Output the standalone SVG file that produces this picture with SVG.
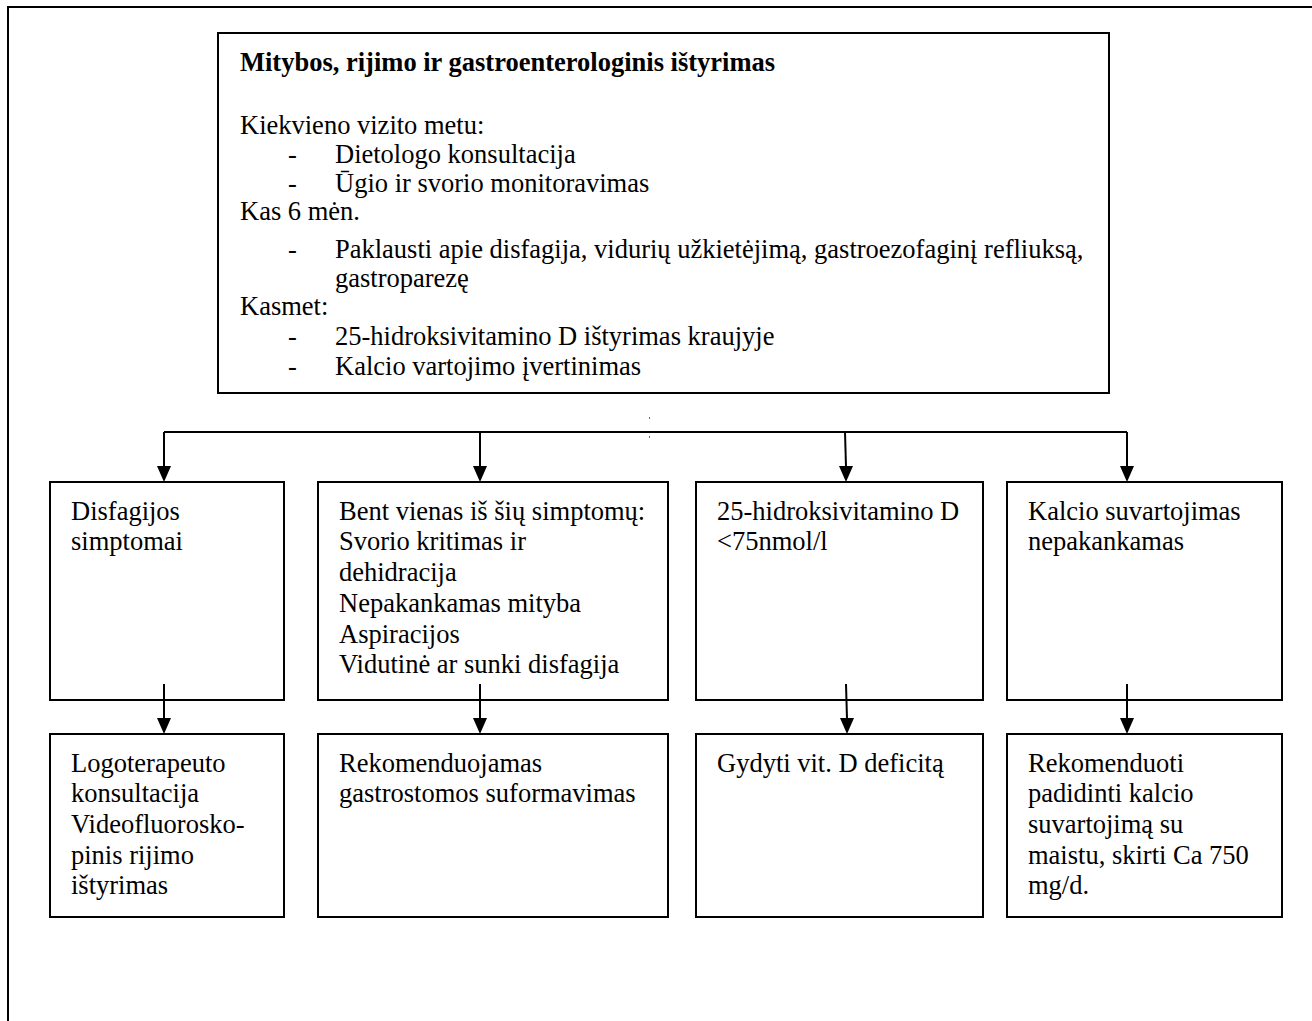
<svg xmlns="http://www.w3.org/2000/svg" width="1312" height="1021" viewBox="0 0 1312 1021">
<style>
.box{fill:#fff;stroke:#000;stroke-width:2}
.t{font-family:"Liberation Serif","Times New Roman",serif;font-size:26.5px;fill:#000}
.b{font-weight:bold}
.c{stroke:#000;stroke-width:2;fill:none}
</style>
<rect x="0" y="0" width="1312" height="1021" fill="#fff"/>
<rect x="8" y="7" width="1330" height="1040" fill="none" stroke="#000" stroke-width="2"/>
<g id="top">
<rect class="box" x="218" y="33" width="891" height="360"/>
<text class="t b" x="240" y="71">Mitybos, rijimo ir gastroenterologinis ištyrimas</text>
<text class="t" x="240" y="134">Kiekvieno vizito metu:</text>
<text class="t" x="288" y="163">-</text><text class="t" x="335" y="163">Dietologo konsultacija</text>
<text class="t" x="288" y="192">-</text><text class="t" x="335" y="192">Ūgio ir svorio monitoravimas</text>
<text class="t" x="240" y="220">Kas 6 mėn.</text>
<text class="t" x="288" y="258">-</text><text class="t" x="335" y="258">Paklausti apie disfagija, vidurių užkietėjimą, gastroezofaginį refliuksą,</text>
<text class="t" x="335" y="287">gastroparezę</text>
<text class="t" x="240" y="315">Kasmet:</text>
<text class="t" x="288" y="345">-</text><text class="t" x="335" y="345">25-hidroksivitamino D ištyrimas kraujyje</text>
<text class="t" x="288" y="375">-</text><text class="t" x="335" y="375">Kalcio vartojimo įvertinimas</text>
</g>
<g id="n1">
<rect class="box" x="50" y="482" width="234" height="218"/>
<text class="t" x="71" y="520">Disfagijos</text>
<text class="t" x="71" y="550">simptomai</text>
</g>
<g id="n2">
<rect class="box" x="318" y="482" width="350" height="218"/>
<text class="t" x="339" y="520">Bent vienas iš šių simptomų:</text>
<text class="t" x="339" y="550">Svorio kritimas ir</text>
<text class="t" x="339" y="581">dehidracija</text>
<text class="t" x="339" y="612">Nepakankamas mityba</text>
<text class="t" x="339" y="643">Aspiracijos</text>
<text class="t" x="339" y="673">Vidutinė ar sunki disfagija</text>
</g>
<g id="n3">
<rect class="box" x="696" y="482" width="287" height="218"/>
<text class="t" x="717" y="520">25-hidroksivitamino D</text>
<text class="t" x="717" y="550">&lt;75nmol/l</text>
</g>
<g id="n4">
<rect class="box" x="1007" y="482" width="275" height="218"/>
<text class="t" x="1028" y="520">Kalcio suvartojimas</text>
<text class="t" x="1028" y="550">nepakankamas</text>
</g>
<g id="m1">
<rect class="box" x="50" y="734" width="234" height="183"/>
<text class="t" x="71" y="772">Logoterapeuto</text>
<text class="t" x="71" y="802">konsultacija</text>
<text class="t" x="71" y="833">Videofluorosko-</text>
<text class="t" x="71" y="864">pinis rijimo</text>
<text class="t" x="71" y="894">ištyrimas</text>
</g>
<g id="m2">
<rect class="box" x="318" y="734" width="350" height="183"/>
<text class="t" x="339" y="772">Rekomenduojamas</text>
<text class="t" x="339" y="802">gastrostomos suformavimas</text>
</g>
<g id="m3">
<rect class="box" x="696" y="734" width="287" height="183"/>
<text class="t" x="717" y="772">Gydyti vit. D deficitą</text>
</g>
<g id="m4">
<rect class="box" x="1007" y="734" width="275" height="183"/>
<text class="t" x="1028" y="772">Rekomenduoti</text>
<text class="t" x="1028" y="802">padidinti kalcio</text>
<text class="t" x="1028" y="833">suvartojimą su</text>
<text class="t" x="1028" y="864">maistu, skirti Ca 750</text>
<text class="t" x="1028" y="894">mg/d.</text>
</g>
<g id="connectors">
<path class="c" d="M164,432 H1127"/>
<path class="c" d="M164,432 V467"/><path d="M157,466 h14 l-7,16 z"/>
<path class="c" d="M480,432 V467"/><path d="M473,466 h14 l-7,16 z"/>
<path class="c" d="M845,432 L846,467"/><path d="M839,466 h14 l-7,16 z"/>
<path class="c" d="M1127,432 V467"/><path d="M1120,466 h14 l-7,16 z"/>
<path class="c" d="M164,684 V719"/><path d="M157,718 h14 l-7,16 z"/>
<path class="c" d="M480,684 V719"/><path d="M473,718 h14 l-7,16 z"/>
<path class="c" d="M846,684 L847,719"/><path d="M840,718 h14 l-7,16 z"/>
<path class="c" d="M1127,684 V719"/><path d="M1120,718 h14 l-7,16 z"/>
<rect x="649" y="417" width="1" height="2" fill="#666"/>
<rect x="649" y="436" width="1" height="2" fill="#666"/>
</g>
</svg>
